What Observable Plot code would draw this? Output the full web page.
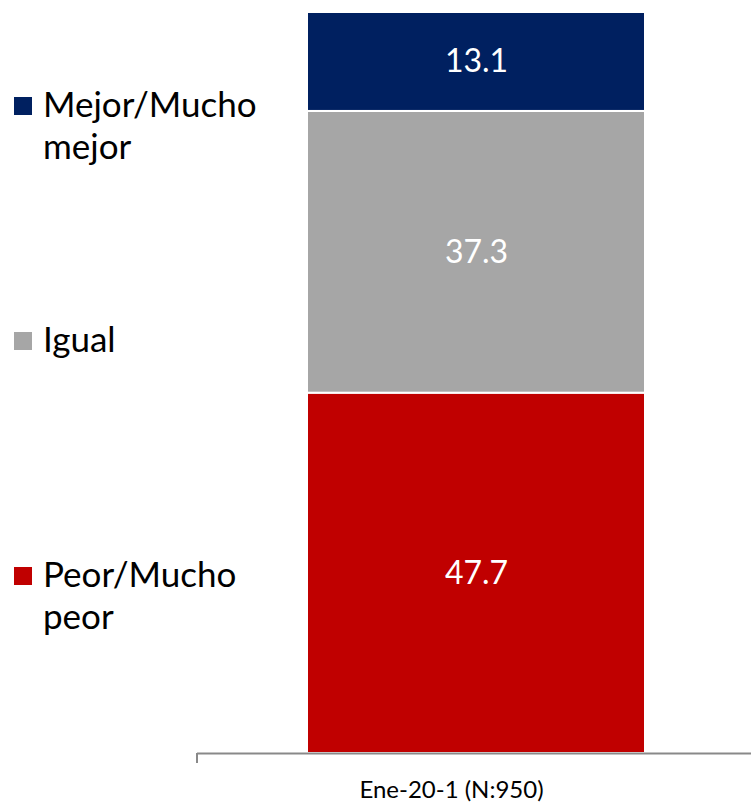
<!DOCTYPE html>
<html>
<head>
<meta charset="utf-8">
<script src="https://cdn.jsdelivr.net/npm/d3@7"></script>
<script src="https://cdn.jsdelivr.net/npm/@observablehq/plot@0.6"></script>
<style>
  body { margin: 0; background: #fff; font-family: Lato, "Open Sans", sans-serif; }
  #wrap { position: relative; width: 751px; height: 803px; overflow: hidden; }
  #legend { position: absolute; left: 0; top: 0; }
</style>
</head>
<body>
<div id="wrap"></div>
<script>
const period = "Ene-20-1 (N:950)";
const categories = ["Peor/Mucho peor", "Igual", "Mejor/Mucho mejor"];
const values = [47.7, 37.3, 13.1];
const colors = ["#C00000", "#A6A6A6", "#002060"];
const legendLines = [["Mejor/Mucho", "mejor"], ["Igual"], ["Peor/Mucho", "peor"]];
const legendColors = ["#002060", "#A6A6A6", "#C00000"];

const data = categories.map((c, i) => ({period, category: c, value: values[i]}));
const total = d3.sum(values);

const plot = Plot.plot({
  width: 751,
  height: 803,
  marginLeft: 197,
  marginRight: -4,
  marginTop: 12,
  marginBottom: 50,
  style: {fontFamily: "Lato, 'Open Sans', sans-serif", background: "#fff", overflow: "hidden"},
  x: {domain: [period], padding: 0.245, label: null},
  y: {domain: [0, total], axis: null},
  color: {domain: categories, range: colors},
  marks: [
    Plot.barY(data, {x: "period", y: "value", fill: "category", stroke: "white", strokeWidth: 2}),
    Plot.text(data, Plot.stackY({x: "period", y: "value", text: d => d.value.toFixed(1), fill: "white", fontSize: 32})),
    Plot.ruleY([0], {stroke: "#898989", strokeWidth: 2}),
    Plot.axisX({tickSize: 0, tickPadding: 27, fontSize: 24, fill: "#000", label: null, dx: -25})
  ]
});
document.getElementById("wrap").appendChild(plot);

// left boundary tick of the category axis, derived from the x scale range
const xr = plot.scale("x").range;
const yr = plot.scale("y").range;
d3.select(plot).append("line")
  .attr("x1", xr[0]).attr("x2", xr[0])
  .attr("y1", yr[0]).attr("y2", yr[0] + 10)
  .attr("stroke", "#898989").attr("stroke-width", 2);

// legend
const lg = d3.select("#wrap").append("svg").attr("id", "legend")
  .attr("width", 300).attr("height", 803)
  .style("font-family", "Lato, 'Open Sans', sans-serif");
const baselines = [117, 352, 587];
const lineH = 42;
legendLines.forEach((lines, i) => {
  lg.append("rect").attr("x", 14).attr("y", baselines[i] - 20).attr("width", 18).attr("height", 18)
    .attr("fill", legendColors[i]);
  lines.forEach((t, j) => {
    lg.append("text").attr("x", 43).attr("y", baselines[i] + j * lineH)
      .attr("font-size", 35).attr("fill", "#000").text(t);
  });
});
</script>
</body>
</html>
